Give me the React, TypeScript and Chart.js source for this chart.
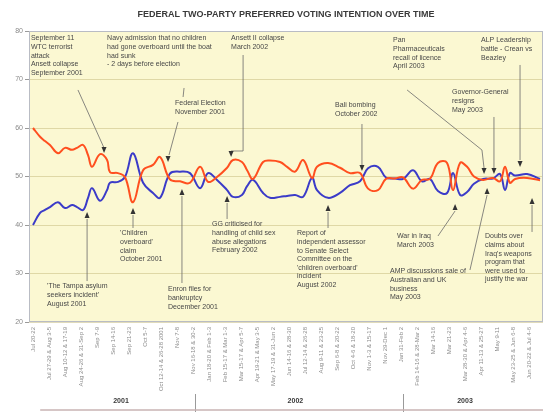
import React, { useEffect, useRef } from 'react';
import { Chart, registerables } from 'chart.js';
Chart.register(...registerables);

const chartTitle = 'FEDERAL TWO-PARTY PREFERRED VOTING INTENTION OVER TIME';
const yTicks = [20, 30, 40, 50, 60, 70, 80];

const xLabels = [
  'Jul 20-22', 'Jul 27-29 & Aug 3-5', 'Aug 10-12 & 17-19', 'Aug 24-26 & 31-Sep 2',
  'Sep 7-9', 'Sep 14-16', 'Sep 21-23', 'Oct 5-7', 'Oct 12-14 & 26-28 2001', 'Nov 7-8',
  'Nov 16-18 & 30-2', 'Jan 18-20 & Feb 1-3', 'Feb 15-17 & Mar 1-3', 'Mar 15-17 & Apr 5-7',
  'Apr 19-21 & May 3-5', 'May 17-19 & 31-Jun 2', 'Jun 14-16 & 28-30', 'Jul 12-14 & 26-28',
  'Aug 9-11 & 23-25', 'Sep 6-8 & 20-22', 'Oct 4-6 & 18-20', 'Nov 1-3 & 15-17',
  'Nov 29-Dec 1', 'Jan 31-Feb 2', 'Feb 14-16 & 28-Mar 2', 'Mar 14-16', 'Mar 21-23',
  'Mar 28-30 & Apr 4-6', 'Apr 11-13 & 25-27', 'May 9-11', 'May 23-25 & Jun 6-8',
  'Jun 20-22 & Jul 4-6',
];

// position of each poll along the date axis (label index units)
const pollIndex = [
  0, 0.44, 0.75, 1.06, 1.56, 2.0, 2.44, 2.75, 3.13, 3.44, 3.69, 4.19, 4.63, 4.81, 5.31,
  5.75, 6.25, 6.88, 7.5, 7.94, 8.56, 9.19, 9.81, 10.44, 10.94, 11.5, 12.13, 12.5, 13.06,
  13.38, 13.75, 14.38, 14.81, 15.44, 15.88, 16.38, 16.88, 17.44, 17.75, 18.44, 19.19,
  19.81, 20.44, 20.94, 21.56, 22.06, 22.63, 23.13, 23.75, 24.31, 24.81, 25.31, 25.88,
  26.25, 26.69, 27.13, 27.56, 28.13, 28.75, 29.19, 29.5, 29.81, 30.13, 30.88, 31.69,
];
const alpVotes = [
  60.0, 58.2, 57.3, 56.5, 54.8, 55.9, 55.5, 55.9, 56.5, 54.4, 52.0, 54.6, 53.4, 50.9, 50.7,
  49.9, 44.7, 51.3, 52.4, 54.0, 49.4, 49.0, 48.7, 52.0, 48.9, 49.9, 51.8, 53.4, 53.0,
  51.3, 49.5, 53.0, 53.3, 53.0, 52.0, 51.0, 53.4, 49.7, 52.0, 52.8, 51.8,
  50.7, 50.7, 47.5, 47.2, 49.5, 49.6, 49.8, 47.5, 49.3, 49.5, 52.8, 52.8,
  47.2, 52.8, 52.0, 50.0, 49.3, 49.7, 49.0, 52.0, 48.7, 49.5, 49.7, 49.2,
];
const coalitionVotes = [
  40.0, 42.5, 43.1, 43.7, 44.7, 43.5, 44.1, 43.7, 43.1, 45.6, 47.6, 45.0, 47.2, 48.7, 48.9,
  49.9, 54.8, 48.7, 46.6, 45.6, 50.6, 51.0, 50.7, 47.6, 50.7, 49.3, 47.2, 45.8, 46.2,
  48.0, 49.3, 46.6, 45.6, 45.8, 46.0, 46.2, 45.8, 49.7, 47.2, 45.6, 46.6,
  48.2, 49.0, 51.7, 52.0, 49.8, 49.6, 49.5, 51.3, 49.0, 49.5, 47.0, 46.6,
  50.7, 46.2, 46.8, 48.5, 49.5, 49.6, 50.5, 47.2, 50.7, 50.2, 50.5, 49.5,
];

const yearLabels = ['2001', '2002', '2003'];
const yearCenters = [5.5, 16.4, 27.0];
const yearBreaks = [10.1, 23.1];
const yearLineStart = 0.45;

type Pt = [number, number];
type Note = { lines: string[]; at: Pt; leader?: Pt[]; arrow?: { at: Pt; dir: 'up' | 'down' } };

const notes: Note[] = [
  { lines: ['September 11', 'WTC terrorist', 'attack', 'Ansett collapse', 'September 2001'], at: [-0.13, 79.18],
    leader: [[2.81, 67.84], [4.44, 55.88]], arrow: { at: [4.44, 54.85], dir: 'down' } },
  { lines: ['Navy admission that no children', 'had gone overboard until the boat', 'had sunk', '- 2 days before election'], at: [4.63, 79.18],
    leader: [[9.44, 68.25], [9.38, 66.39]] },
  { lines: ['Federal Election', 'November 2001'], at: [8.88, 65.77],
    leader: [[9.06, 61.24], [8.5, 54.43]], arrow: { at: [8.44, 52.99], dir: 'down' } },
  { lines: ['Ansett II collapse', 'March 2002'], at: [12.38, 79.18],
    leader: [[13.13, 75.05], [13.13, 55.26], [12.38, 55.26]], arrow: { at: [12.38, 54.02], dir: 'down' } },
  { lines: ['Bali bombing', 'October 2002'], at: [18.88, 65.36],
    leader: [[20.56, 60.82], [20.56, 52.37]], arrow: { at: [20.56, 51.13], dir: 'down' } },
  { lines: ['Pan', 'Pharmaceuticals', 'recall of licence', 'April 2003'], at: [22.5, 78.76],
    leader: [[23.38, 67.84], [28.06, 55.46], [28.19, 51.75]], arrow: { at: [28.19, 50.52], dir: 'down' } },
  { lines: ['Governor-General', 'resigns', 'May 2003'], at: [26.19, 68.04],
    leader: [[28.81, 62.27], [28.81, 51.75]], arrow: { at: [28.81, 50.52], dir: 'down' } },
  { lines: ['ALP Leadership', 'battle - Crean vs', 'Beazley'], at: [28.0, 78.76],
    leader: [[30.44, 72.99], [30.44, 53.4]], arrow: { at: [30.44, 51.96], dir: 'down' } },
  { lines: ["'Children", "overboard'", 'claim', 'October 2001'], at: [5.44, 38.97],
    leader: [[6.25, 39.38], [6.25, 42.06]], arrow: { at: [6.25, 43.51], dir: 'up' } },
  { lines: ["'The Tampa asylum", "seekers incident'", 'August 2001'], at: [0.88, 28.04],
    leader: [[3.38, 28.45], [3.38, 41.24]], arrow: { at: [3.38, 42.68], dir: 'up' } },
  { lines: ['Enron files for', 'bankruptcy', 'December 2001'], at: [8.44, 27.42],
    leader: [[9.31, 28.04], [9.31, 45.98]], arrow: { at: [9.31, 47.42], dir: 'up' } },
  { lines: ['GG criticised for', 'handling of child sex', 'abuse allegations', 'February 2002'], at: [11.19, 40.82],
    leader: [[12.13, 41.24], [12.13, 44.54]], arrow: { at: [12.13, 45.98], dir: 'up' } },
  { lines: ['Report of', 'independent assessor', 'to Senate Select', 'Committee on the', "'children overboard'", 'incident', 'August 2002'], at: [16.5, 38.97],
    leader: [[18.44, 39.38], [18.44, 42.68]], arrow: { at: [18.44, 44.12], dir: 'up' } },
  { lines: ['War in Iraq', 'March 2003'], at: [22.75, 38.35],
    leader: [[25.31, 37.73], [26.38, 42.89]], arrow: { at: [26.38, 44.33], dir: 'up' } },
  { lines: ['AMP discussions sale of', 'Australian and UK', 'business', 'May 2003'], at: [22.31, 31.13],
    leader: [[27.31, 30.72], [28.38, 46.19]], arrow: { at: [28.38, 47.63], dir: 'up' } },
  { lines: ['Doubts over', 'claims about', "Iraq's weapons", 'program that', 'were used to', 'justify the war'], at: [28.25, 38.35],
    leader: [[31.19, 38.56], [31.19, 44.12]], arrow: { at: [31.19, 45.57], dir: 'up' } },
];

const FONT = '"Liberation Sans", Arial, sans-serif';
const PLOT_BG = '#fbf8d2';

const decor = {
  id: 'decor',
  beforeDraw(chart: any) {
    const { ctx, chartArea: a } = chart;
    ctx.save();
    ctx.fillStyle = PLOT_BG;
    ctx.fillRect(a.left, a.top, a.right - a.left, a.bottom - a.top);
    ctx.restore();
  },
  afterDraw(chart: any) {
    const { ctx, chartArea: a, scales } = chart;
    const xs = scales.x, ys = scales.y;
    const px = (p: Pt) => [xs.getPixelForValue(p[0]), ys.getPixelForValue(p[1])];
    ctx.save();
    // plot border
    ctx.strokeStyle = '#b9bcc4';
    ctx.lineWidth = 1;
    ctx.strokeRect(a.left + 0.5, a.top + 0.5, a.right - a.left - 1, a.bottom - a.top - 1);
    // title
    ctx.fillStyle = '#3a3a3a';
    ctx.font = `bold 9px ${FONT}`;
    ctx.textAlign = 'center';
    ctx.textBaseline = 'middle';
    ctx.fillText(chartTitle, (a.left + a.right) / 2, 15);
    // year row
    ctx.font = `bold 7px ${FONT}`;
    yearLabels.forEach((t, i) => ctx.fillText(t, xs.getPixelForValue(yearCenters[i]), 401));
    ctx.strokeStyle = '#9a9a9a';
    ctx.lineWidth = 1;
    yearBreaks.forEach((v) => {
      const x = Math.round(xs.getPixelForValue(v)) + 0.5;
      ctx.beginPath(); ctx.moveTo(x, 394); ctx.lineTo(x, 412); ctx.stroke();
    });
    ctx.strokeStyle = '#c9b3b3';
    ctx.lineWidth = 1.5;
    ctx.beginPath(); ctx.moveTo(xs.getPixelForValue(yearLineStart), 410); ctx.lineTo(a.right, 410); ctx.stroke();
    // annotations
    ctx.font = `7px ${FONT}`;
    ctx.textAlign = 'left';
    ctx.textBaseline = 'top';
    notes.forEach((n) => {
      const [tx, ty] = px(n.at);
      ctx.fillStyle = '#474747';
      n.lines.forEach((l, i) => ctx.fillText(l, tx, ty + i * 8.6));
      if (n.leader) {
        ctx.strokeStyle = '#6a6a6a';
        ctx.lineWidth = 0.8;
        ctx.beginPath();
        n.leader.forEach((p, i) => {
          const [x, y] = px(p);
          if (i === 0) ctx.moveTo(x, y); else ctx.lineTo(x, y);
        });
        ctx.stroke();
      }
      if (n.arrow) {
        const [x, y] = px(n.arrow.at);
        const h = n.arrow.dir === 'down' ? -6 : 6;
        ctx.fillStyle = '#333';
        ctx.beginPath();
        ctx.moveTo(x, y);
        ctx.lineTo(x - 2.5, y + h);
        ctx.lineTo(x + 2.5, y + h);
        ctx.closePath();
        ctx.fill();
      }
    });
    ctx.restore();
  },
};

export default function App() {
  const ref = useRef<HTMLCanvasElement>(null);
  useEffect(() => {
    document.body.style.margin = '0';
    const c = ref.current!;
    const chart = new Chart(c, {
      type: 'line',
      data: {
        datasets: [
          {
            label: 'ALP',
            data: pollIndex.map((x, i) => ({ x, y: alpVotes[i] })),
            borderColor: '#ff4f1f',
            borderWidth: 2,
            pointRadius: 0,
            tension: 0.4,
            fill: false,
          },
          {
            label: 'Coalition',
            data: pollIndex.map((x, i) => ({ x, y: coalitionVotes[i] })),
            borderColor: '#3b3bc8',
            borderWidth: 2,
            pointRadius: 0,
            tension: 0.4,
            fill: false,
          },
        ],
      },
      options: {
        responsive: false,
        animation: false,
        layout: { padding: { top: 31, right: 2, left: 0, bottom: 0 } },
        plugins: { legend: { display: false }, title: { display: false }, tooltip: { enabled: false } },
        scales: {
          x: {
            type: 'linear',
            min: -0.25,
            max: 31.875,
            afterBuildTicks: (s: any) => { s.ticks = xLabels.map((_, i) => ({ value: i })); },
            afterFit: (s: any) => { s.height = 90; },
            grid: { display: false, drawTicks: false },
            border: { display: false },
            ticks: {
              autoSkip: false,
              maxRotation: 90,
              minRotation: 90,
              padding: 5,
              color: '#8c8c8c',
              font: { size: 6, family: FONT },
              callback: (v: any) => xLabels[v] ?? '',
            },
          },
          y: {
            min: 20,
            max: 80,
            afterBuildTicks: (s: any) => { s.ticks = yTicks.map((v) => ({ value: v })); },
            afterFit: (s: any) => { s.width = 29; },
            border: { display: false },
            grid: { color: 'rgba(200,190,130,0.55)', tickColor: '#9a9a9a', tickLength: 4, lineWidth: 1 },
            ticks: { color: '#8a8a8a', padding: 2, font: { size: 7, family: FONT } },
          },
        },
      },
      plugins: [decor],
    });
    return () => chart.destroy();
  }, []);
  return <canvas ref={ref} width={545} height={412} style={{ display: 'block' }} />;
}
